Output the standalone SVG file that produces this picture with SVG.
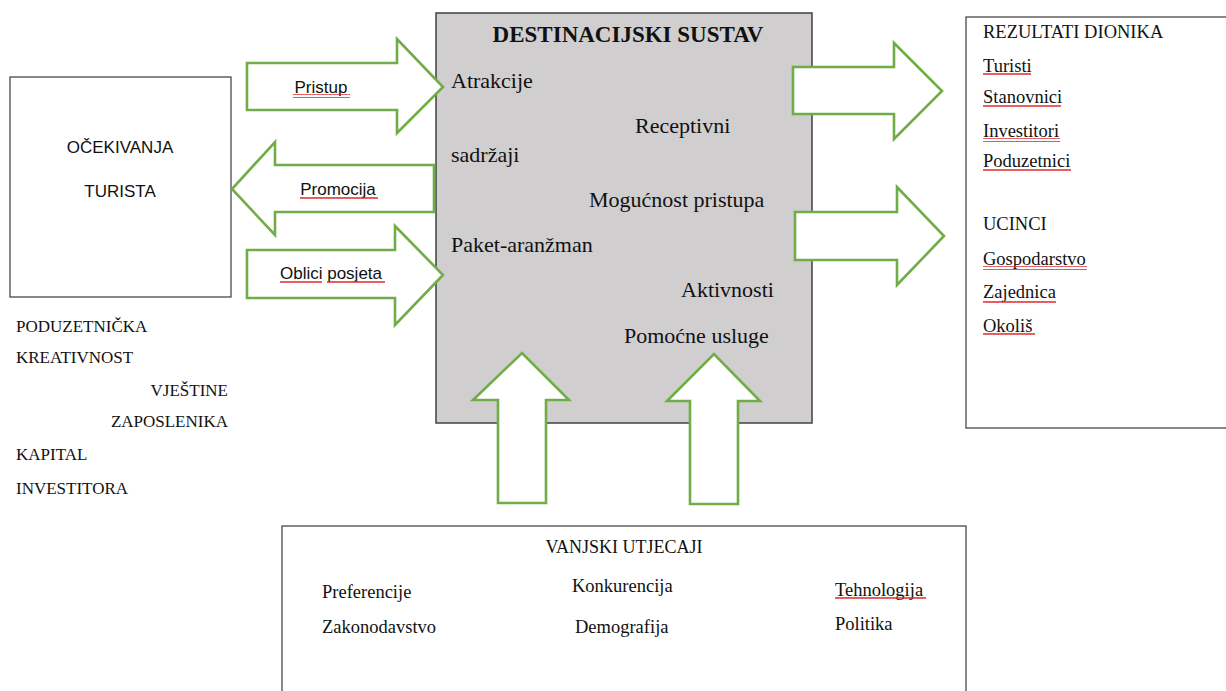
<svg xmlns="http://www.w3.org/2000/svg" width="1226" height="691" viewBox="0 0 1226 691">
<defs>
<pattern id="wave" patternUnits="userSpaceOnUse" width="4" height="4">
<path d="M0 3 L1 1 L2 3 L3 1 L4 3" fill="none" stroke="#e02020" stroke-width="0.9"/>
</pattern>
<style>
.box{fill:#fff;stroke:#3a3a3a;stroke-width:1.2}
.sys{fill:#d0cece;stroke:#404040;stroke-width:1.5}
.arr{fill:#fff;stroke:#70ad47;stroke-width:2.6;stroke-linejoin:miter}
.serif{font-family:"Liberation Serif","Times New Roman",serif;fill:#111}
.sans{font-family:"Liberation Sans",Arial,sans-serif;fill:#111}
.t23{font-size:23px}
.t22{font-size:22px}
.t185{font-size:18.5px}
.t18{font-size:18px}
.t17{font-size:17px}
.sq{fill:url(#wave)}
</style>
</defs>
<rect width="1226" height="691" fill="#fff"/>

<g id="ocekivanja">
<rect class="box" x="10" y="77" width="221" height="220"/>
<text class="sans t17" x="120" y="153" text-anchor="middle">OČEKIVANJA</text>
<text class="sans t17" x="120" y="197" text-anchor="middle">TURISTA</text>
</g>

<g id="resursi">
<text class="serif t17" x="16" y="332">PODUZETNIČKA</text>
<text class="serif t17" x="16" y="363">KREATIVNOST</text>
<text class="serif t17" x="228" y="396" text-anchor="end">VJEŠTINE</text>
<text class="serif t17" x="228" y="427" text-anchor="end">ZAPOSLENIKA</text>
<text class="serif t17" x="16" y="460">KAPITAL</text>
<text class="serif t17" x="16" y="494">INVESTITORA</text>
</g>

<g id="destinacijski-sustav">
<rect class="sys" x="436" y="13" width="376" height="410"/>
<text class="serif t23" x="628" y="42" text-anchor="middle" font-weight="bold">DESTINACIJSKI SUSTAV</text>
<text class="serif t22" x="451" y="88">Atrakcije</text>
<text class="serif t22" x="635" y="133">Receptivni</text>
<text class="serif t22" x="451" y="162">sadržaji</text>
<text class="serif t22" x="589" y="207">Mogućnost pristupa</text>
<text class="serif t22" x="451" y="252">Paket-aranžman</text>
<text class="serif t22" x="681" y="297">Aktivnosti</text>
<text class="serif t22" x="624" y="343">Pomoćne usluge</text>
</g>

<g id="rezultati">
<rect class="box" x="966" y="17" width="270" height="411"/>
<text class="serif t185" x="983" y="38">REZULTATI DIONIKA</text>
<text class="serif t185" x="983" y="72">Turisti</text>
<text class="serif t185" x="983" y="103">Stanovnici</text>
<text class="serif t185" x="983" y="137">Investitori</text>
<text class="serif t185" x="983" y="167">Poduzetnici</text>
<text class="serif t185" x="983" y="230">UCINCI</text>
<text class="serif t185" x="983" y="265">Gospodarstvo</text>
<text class="serif t185" x="983" y="298">Zajednica</text>
<text class="serif t185" x="983" y="332">Okoliš</text>
<rect class="sq" x="983" y="73" width="48" height="4"/>
<rect class="sq" x="983" y="104" width="78" height="4"/>
<rect class="sq" x="983" y="138" width="77" height="4"/>
<rect class="sq" x="983" y="168" width="88" height="4"/>
<rect class="sq" x="983" y="266" width="104" height="4"/>
<rect class="sq" x="983" y="299" width="73" height="4"/>
<rect class="sq" x="983" y="333" width="52" height="4"/>
</g>

<g id="vanjski-utjecaji">
<rect class="box" x="282" y="526" width="684" height="200"/>
<text class="serif t18" x="624" y="553" text-anchor="middle">VANJSKI UTJECAJI</text>
<text class="serif t185" x="322" y="598">Preferencije</text>
<text class="serif t185" x="572" y="592">Konkurencija</text>
<text class="serif t185" x="835" y="596">Tehnologija</text>
<text class="serif t185" x="322" y="633">Zakonodavstvo</text>
<text class="serif t185" x="575" y="633">Demografija</text>
<text class="serif t185" x="835" y="630">Politika</text>
<rect class="sq" x="835" y="597" width="91" height="4"/>
</g>

<g id="connectors">
<polygon class="arr" points="247,63 397,63 397,39 443,87 397,133 397,110 247,110"/>
<polygon class="arr" points="434,165 275,165 275,142 232,189 275,235 275,212 434,212"/>
<polygon class="arr" points="247,250 395,250 395,226 443,275 395,325 395,298 247,298"/>
<polygon class="arr" points="793,67 894,67 894,43 942,91 894,139 894,114 793,114"/>
<polygon class="arr" points="795,212 897,212 897,187 944,236 897,285 897,260 795,260"/>
<polygon class="arr" points="498,503 498,400 473,400 522,353 569,400 546,400 546,503"/>
<polygon class="arr" points="690,504 690,401 667,401 714,354 760,401 738,401 738,504"/>
<text class="sans t17" x="321" y="93" text-anchor="middle">Pristup</text>
<text class="sans t17" x="338" y="195" text-anchor="middle">Promocija</text>
<text class="sans t17" x="331" y="279" text-anchor="middle">Oblici posjeta</text>
<rect class="sq" x="293" y="94" width="57" height="4"/>
<rect class="sq" x="300" y="196" width="78" height="4"/>
<rect class="sq" x="280" y="280" width="42" height="4"/>
<rect class="sq" x="327" y="280" width="58" height="4"/>
</g>
</svg>
